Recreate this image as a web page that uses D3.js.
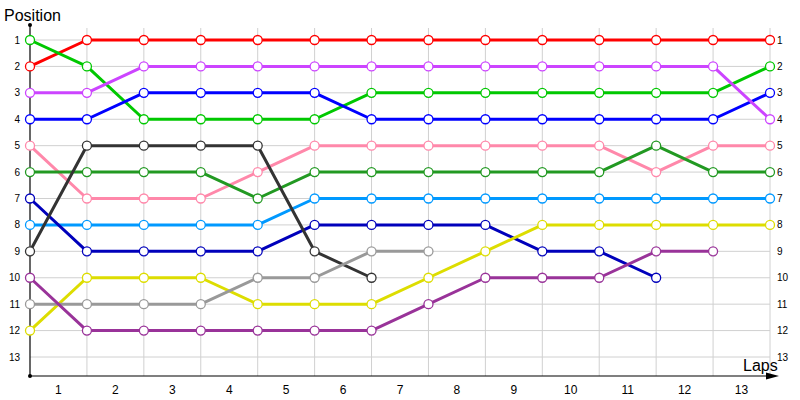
<!DOCTYPE html>
<html>
<head>
<meta charset="utf-8">
<script src="https://cdn.jsdelivr.net/npm/d3@7"></script>
<style>
  body { margin: 0; background: #fff; }
  svg { display: block; font-family: "Liberation Sans", Arial, sans-serif; }
  .grid line { stroke: #d0d0d0; stroke-width: 1; }
  .series path { fill: none; stroke-width: 3; stroke-linejoin: round; }
  .series circle { fill: #fff; stroke-width: 1.3; }
</style>
</head>
<body>
<svg width="800" height="400"></svg>
<script>
// laps on x axis, positions on y axis
var laps = [1, 2, 3, 4, 5, 6, 7, 8, 9, 10, 11, 12, 13];
var positions = [1, 2, 3, 4, 5, 6, 7, 8, 9, 10, 11, 12, 13];

// one position per lap boundary (0 = start)
var red       = [2, 1, 1, 1, 1, 1, 1, 1, 1, 1, 1, 1, 1, 1];
var green     = [1, 2, 4, 4, 4, 4, 3, 3, 3, 3, 3, 3, 3, 2];
var blue      = [4, 4, 3, 3, 3, 3, 4, 4, 4, 4, 4, 4, 4, 3];
var violet    = [3, 3, 2, 2, 2, 2, 2, 2, 2, 2, 2, 2, 2, 4];
var pink      = [5, 7, 7, 7, 6, 5, 5, 5, 5, 5, 5, 6, 5, 5];
var darkGreen = [6, 6, 6, 6, 7, 6, 6, 6, 6, 6, 6, 5, 6, 6];
var lightBlue = [8, 8, 8, 8, 8, 7, 7, 7, 7, 7, 7, 7, 7, 7];
var navy      = [7, 9, 9, 9, 9, 8, 8, 8, 8, 9, 9, 10];
var black     = [9, 5, 5, 5, 5, 9, 10];
var yellow    = [12, 10, 10, 10, 11, 11, 11, 10, 9, 8, 8, 8, 8, 8];
var grey      = [11, 11, 11, 11, 10, 10, 9, 9];
var plum      = [10, 12, 12, 12, 12, 12, 12, 11, 10, 10, 10, 9, 9];

var series = [
  {c: "#ff0000", v: red},
  {c: "#00c800", v: green},
  {c: "#0000ff", v: blue},
  {c: "#cc44ff", v: violet},
  {c: "#ff88aa", v: pink},
  {c: "#229922", v: darkGreen},
  {c: "#0099ff", v: lightBlue},
  {c: "#0000bb", v: navy},
  {c: "#333333", v: black},
  {c: "#dddd00", v: yellow},
  {c: "#999999", v: grey},
  {c: "#993399", v: plum}
];

var svg = d3.select("svg");

var x = d3.scaleLinear().domain([0, laps.length]).range([30, 770]);
var y = d3.scaleLinear().domain([1, positions.length]).range([40, 357]);

// grid
var grid = svg.append("g").attr("class", "grid");
grid.selectAll("line.h")
  .data(positions)
  .enter().append("line")
  .attr("class", "h")
  .attr("x1", x(0)).attr("x2", x(laps.length))
  .attr("y1", function(d) { return y(d); })
  .attr("y2", function(d) { return y(d); });
grid.selectAll("line.v")
  .data(d3.range(1, laps.length + 1))
  .enter().append("line")
  .attr("class", "v")
  .attr("x1", function(d) { return x(d); })
  .attr("x2", function(d) { return x(d); })
  .attr("y1", 28).attr("y2", 376);

// axes
svg.append("line").attr("x1", 30).attr("x2", 30).attr("y1", 25).attr("y2", 376)
  .attr("stroke", "#000").attr("stroke-width", 1.2);
svg.append("line").attr("x1", 30).attr("x2", 770).attr("y1", 376).attr("y2", 376)
  .attr("stroke", "#000").attr("stroke-width", 1.2);
svg.append("path").attr("d", "M766,372.5L779,376L766,379.5Z").attr("fill", "#000");
svg.append("circle").attr("cx", 30).attr("cy", 25).attr("r", 2).attr("fill", "#000");
svg.append("circle").attr("cx", 30).attr("cy", 376).attr("r", 2).attr("fill", "#000");

svg.append("text").attr("x", 4).attr("y", 21).attr("font-size", 16).text("Position");
svg.append("text").attr("x", 743).attr("y", 371).attr("font-size", 16).text("Laps");

// y tick labels, both sides
svg.append("g").selectAll("text")
  .data(positions)
  .enter().append("text")
  .attr("x", 20).attr("y", function(d) { return y(d); })
  .attr("dy", "0.35em").attr("text-anchor", "end").attr("font-size", 10)
  .text(function(d) { return d; });
svg.append("g").selectAll("text")
  .data(positions)
  .enter().append("text")
  .attr("x", 777).attr("y", function(d) { return y(d); })
  .attr("dy", "0.35em").attr("font-size", 10)
  .text(function(d) { return d; });

// lap labels centered between gridlines
svg.append("g").selectAll("text")
  .data(laps)
  .enter().append("text")
  .attr("x", function(d) { return x(d - 0.5); }).attr("y", 390)
  .attr("dy", "0.35em").attr("text-anchor", "middle").attr("font-size", 12)
  .text(function(d) { return d; });

// series
var line = d3.line()
  .x(function(d, i) { return x(i); })
  .y(function(d) { return y(d); });

var gs = svg.selectAll("g.series")
  .data(series)
  .enter().append("g")
  .attr("class", "series");

gs.append("path")
  .attr("d", function(s) { return line(s.v); })
  .attr("stroke", function(s) { return s.c; });

gs.selectAll("circle")
  .data(function(s) { return s.v.map(function(v, i) { return {i: i, v: v, c: s.c}; }); })
  .enter().append("circle")
  .attr("cx", function(d) { return x(d.i); })
  .attr("cy", function(d) { return y(d.v); })
  .attr("r", 4.5)
  .attr("stroke", function(d) { return d.c; });
</script>
</body>
</html>
